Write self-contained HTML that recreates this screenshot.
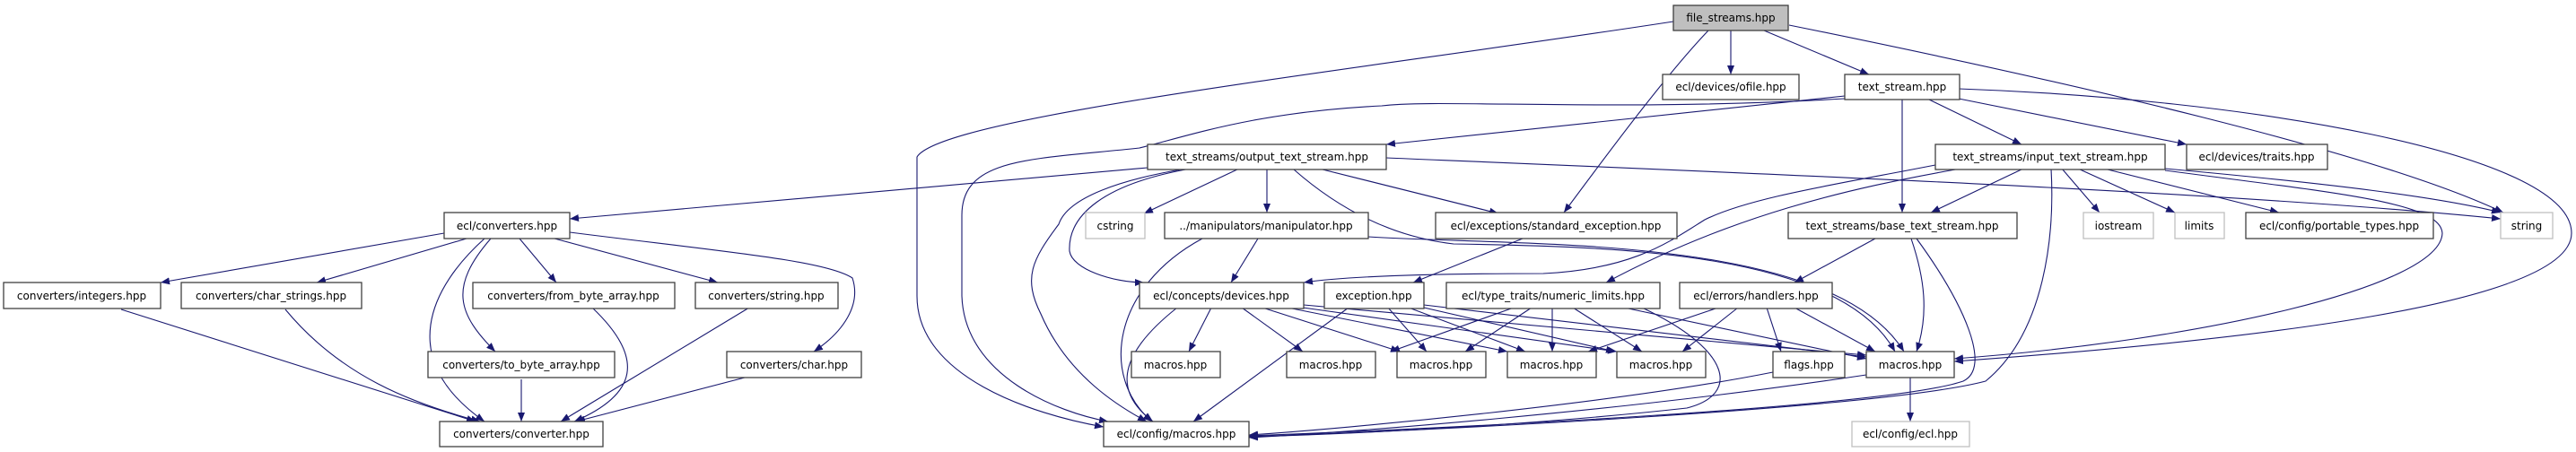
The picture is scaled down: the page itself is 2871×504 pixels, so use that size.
<!DOCTYPE html>
<html><head><meta charset="utf-8"><style>
html,body{margin:0;padding:0;background:#fff;}
svg{display:block;}
text{font-family:"DejaVu Sans","Liberation Sans",sans-serif;font-size:12px;fill:#000;}
.n{fill:#fff;stroke:#404040;stroke-width:1.3;}
.g{fill:#fff;stroke:#bfbfbf;stroke-width:1.3;}
.e{fill:none;stroke:#191970;stroke-width:1.1;}
</style></head><body>
<svg width="2871" height="504" viewBox="0 0 2871 504" xmlns="http://www.w3.org/2000/svg">
<defs><marker id="a" viewBox="0 0 10 10" refX="10" refY="5" markerWidth="10" markerHeight="10" markerUnits="userSpaceOnUse" orient="auto"><path d="M0,1 L10,5 L0,9 z" fill="#191970"/></marker></defs>
<g class="e" marker-end="url(#a)">
<!-- file_streams -->
<path d="M1865,24 C1500,80 1050,130 1022,175 L1022,330 C1022,420 1150,462 1230,476"/>
<path d="M1929,34 L1929,83"/>
<path d="M1904,34 C1860,80 1800,160 1743,237"/>
<path d="M1966,34 L2083,83"/>
<path d="M1994,28 C2300,90 2650,170 2790,237"/>
<!-- text_stream -->
<path d="M2056,107 L1545,161"/>
<path d="M2056,110 C1800,125 1600,110 1540,118 C1400,125 1330,150 1270,165 C1150,178 1072,175 1072,240 L1072,330 C1075,420 1180,460 1235,470"/>
<path d="M2120,111 L2120,237"/>
<path d="M2150,111 L2253,161"/>
<path d="M2183,110 L2437,161"/>
<path d="M2183,99 C2500,110 2866,170 2866,260 C2866,340 2500,380 2178,403"/>
<!-- output_text_stream -->
<path d="M1279,187 C1000,210 750,232 635,244"/>
<path d="M1545,176 C2000,195 2500,215 2787,244"/>
<path d="M1381,188 L1275,238"/>
<path d="M1412,188 L1412,237"/>
<path d="M1470,188 L1670,238"/>
<path d="M1322,188 C1250,200 1190,220 1180,250 C1150,290 1140,310 1160,350 C1190,420 1250,455 1278,470"/>
<path d="M1327,188 C1230,205 1190,240 1192,280 C1195,300 1240,315 1275,315"/>
<path d="M1442,189 C1500,240 1560,265 1620,272 C1800,275 2050,280 2112,392"/>
<!-- manipulator -->
<path d="M1402,266 L1372,315"/>
<path d="M1340,266 C1240,320 1225,420 1284,470"/>
<path d="M1525,264 C1700,275 2040,260 2122,392"/>
<!-- standard_exception -->
<path d="M1697,266 L1575,315"/>
<!-- input_text_stream -->
<path d="M2157,184 C2050,205 1950,220 1900,245 C1860,270 1820,300 1720,305 C1600,305 1500,308 1453,315"/>
<path d="M2185,188 C2060,210 1930,240 1790,315"/>
<path d="M2255,188 L2152,237"/>
<path d="M2298,188 L2340,237"/>
<path d="M2316,188 L2424,237"/>
<path d="M2345,188 L2540,237"/>
<path d="M2413,188 C2600,205 2720,220 2787,237"/>
<path d="M2413,190 C2600,215 2720,225 2722,260 C2720,320 2450,380 2178,400"/>
<path d="M2286,188 C2290,260 2280,370 2213,425 C2100,455 1600,480 1392,487"/>
<!-- base_text_stream -->
<path d="M2090,266 L2000,315"/>
<path d="M2130,266 C2145,310 2150,350 2136,392"/>
<path d="M2136,266 C2190,340 2220,410 2188,425 C2100,455 1600,478 1392,486"/>
<!-- ecl/converters -->
<path d="M495,260 L179,315"/>
<path d="M520,266 L353,315"/>
<path d="M579,266 L620,315"/>
<path d="M618,266 L800,315"/>
<path d="M635,259 C800,280 920,290 950,310 C960,340 940,370 907,392"/>
<path d="M547,266 C500,320 510,350 552,392"/>
<path d="M540,266 C480,320 440,400 540,470"/>
<path d="M135,345 L530,470"/>
<path d="M318,345 C380,420 460,450 535,470"/>
<path d="M660,343 C720,400 710,440 640,470"/>
<path d="M581,423 L581,470"/>
<path d="M835,343 L625,470"/>
<path d="M830,421 L642,470"/>
<!-- devices -->
<path d="M1350,343 L1325,392"/>
<path d="M1384,343 L1452,392"/>
<path d="M1407,343 L1560,392"/>
<path d="M1435,343 L1680,392"/>
<path d="M1452,343 L1802,392"/>
<path d="M1453,340 L2080,396"/>
<path d="M1312,343 C1240,400 1245,440 1285,470"/>
<!-- exception -->
<path d="M1503,343 L1330,470"/>
<path d="M1547,343 L1590,392"/>
<path d="M1570,343 L1700,392"/>
<path d="M1587,343 L1800,392"/>
<path d="M1587,340 L2080,398"/>
<!-- numeric_limits -->
<path d="M1687,343 L1550,392"/>
<path d="M1707,343 L1633,392"/>
<path d="M1730,343 L1730,392"/>
<path d="M1753,343 L1830,392"/>
<path d="M1810,343 L2080,400"/>
<path d="M1830,343 C1930,390 1940,440 1880,455 C1700,475 1500,484 1392,487"/>
<!-- handlers -->
<path d="M1915,343 L1770,392"/>
<path d="M1937,343 L1875,392"/>
<path d="M1969,343 L1985,392"/>
<path d="M2000,343 L2090,392"/>
<path d="M1976,415 C1800,450 1500,478 1392,485"/>
<path d="M2080,418 C1800,460 1500,482 1392,488"/>
<path d="M2129,420 L2129,470"/>
</g>
<!-- nodes -->
<rect x="1865" y="6" width="128" height="28" fill="#bfbfbf" stroke="#404040" stroke-width="1.3"/><text x="1929" y="24" text-anchor="middle">file_streams.hpp</text>
<rect class="n" x="1853" y="83" width="152" height="28"/><text x="1929" y="101" text-anchor="middle">ecl/devices/ofile.hpp</text>
<rect class="n" x="2056" y="83" width="128" height="28"/><text x="2120" y="101" text-anchor="middle">text_stream.hpp</text>
<rect class="n" x="1279" y="161" width="266" height="28"/><text x="1412" y="179" text-anchor="middle">text_streams/output_text_stream.hpp</text>
<rect class="n" x="2157" y="161" width="256" height="28"/><text x="2285" y="179" text-anchor="middle">text_streams/input_text_stream.hpp</text>
<rect class="n" x="2437" y="161" width="157" height="28"/><text x="2515" y="179" text-anchor="middle">ecl/devices/traits.hpp</text>
<rect class="n" x="495" y="237" width="140" height="29"/><text x="565" y="256" text-anchor="middle">ecl/converters.hpp</text>
<rect class="g" x="1210" y="237" width="66" height="29"/><text x="1243" y="256" text-anchor="middle">cstring</text>
<rect class="n" x="1298" y="237" width="227" height="29"/><text x="1411" y="256" text-anchor="middle">../manipulators/manipulator.hpp</text>
<rect class="n" x="1600" y="237" width="269" height="29"/><text x="1734" y="256" text-anchor="middle">ecl/exceptions/standard_exception.hpp</text>
<rect class="n" x="1993" y="237" width="255" height="29"/><text x="2120" y="256" text-anchor="middle">text_streams/base_text_stream.hpp</text>
<rect class="g" x="2322" y="237" width="78" height="29"/><text x="2361" y="256" text-anchor="middle">iostream</text>
<rect class="g" x="2424" y="237" width="55" height="29"/><text x="2451" y="256" text-anchor="middle">limits</text>
<rect class="n" x="2503" y="237" width="209" height="29"/><text x="2607" y="256" text-anchor="middle">ecl/config/portable_types.hpp</text>
<rect class="g" x="2787" y="237" width="58" height="29"/><text x="2816" y="256" text-anchor="middle">string</text>
<rect class="n" x="4" y="315" width="175" height="29"/><text x="91" y="334" text-anchor="middle">converters/integers.hpp</text>
<rect class="n" x="202" y="315" width="201" height="29"/><text x="302" y="334" text-anchor="middle">converters/char_strings.hpp</text>
<rect class="n" x="527" y="315" width="225" height="29"/><text x="639" y="334" text-anchor="middle">converters/from_byte_array.hpp</text>
<rect class="n" x="775" y="315" width="159" height="29"/><text x="854" y="334" text-anchor="middle">converters/string.hpp</text>
<rect class="n" x="1270" y="315" width="183" height="29"/><text x="1361" y="334" text-anchor="middle">ecl/concepts/devices.hpp</text>
<rect class="n" x="1476" y="315" width="111" height="29"/><text x="1531" y="334" text-anchor="middle">exception.hpp</text>
<rect class="n" x="1612" y="315" width="238" height="29"/><text x="1731" y="334" text-anchor="middle">ecl/type_traits/numeric_limits.hpp</text>
<rect class="n" x="1872" y="315" width="170" height="29"/><text x="1957" y="334" text-anchor="middle">ecl/errors/handlers.hpp</text>
<rect class="n" x="477" y="392" width="208" height="29"/><text x="581" y="411" text-anchor="middle">converters/to_byte_array.hpp</text>
<rect class="n" x="810" y="392" width="150" height="29"/><text x="885" y="411" text-anchor="middle">converters/char.hpp</text>
<rect class="n" x="1261" y="392" width="99" height="29"/><text x="1310" y="411" text-anchor="middle">macros.hpp</text>
<rect class="n" x="1434" y="392" width="99" height="29"/><text x="1483" y="411" text-anchor="middle">macros.hpp</text>
<rect class="n" x="1557" y="392" width="99" height="29"/><text x="1606" y="411" text-anchor="middle">macros.hpp</text>
<rect class="n" x="1680" y="392" width="99" height="29"/><text x="1729" y="411" text-anchor="middle">macros.hpp</text>
<rect class="n" x="1802" y="392" width="99" height="29"/><text x="1851" y="411" text-anchor="middle">macros.hpp</text>
<rect class="n" x="1976" y="392" width="80" height="29"/><text x="2016" y="411" text-anchor="middle">flags.hpp</text>
<rect class="n" x="2080" y="392" width="98" height="29"/><text x="2129" y="411" text-anchor="middle">macros.hpp</text>
<rect class="n" x="490" y="470" width="182" height="28"/><text x="581" y="488" text-anchor="middle">converters/converter.hpp</text>
<rect class="n" x="1230" y="470" width="162" height="28"/><text x="1311" y="488" text-anchor="middle">ecl/config/macros.hpp</text>
<rect class="g" x="2064" y="470" width="131" height="28"/><text x="2129" y="488" text-anchor="middle" fill="#000">ecl/config/ecl.hpp</text>
</svg>
</body></html>
